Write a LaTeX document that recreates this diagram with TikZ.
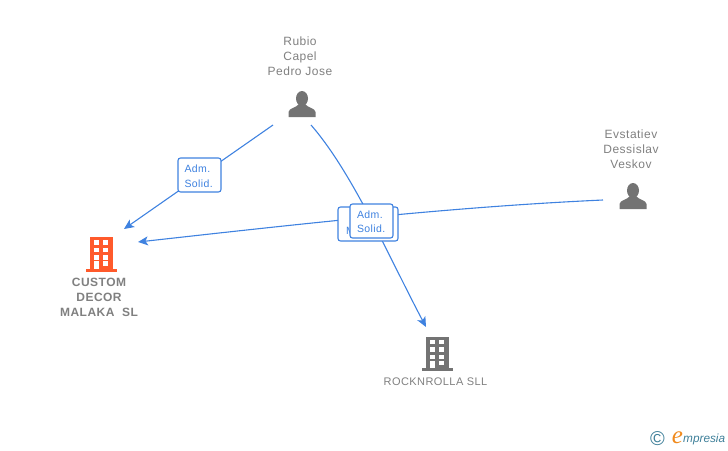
\documentclass[tikz,border=0pt]{standalone}
\usepackage{fontspec}
\setmainfont{Liberation Sans}
\newfontfamily\labelfont[LetterSpace=4]{Liberation Sans}
\newfontfamily\logofont{Liberation Serif}
\usepackage{xcolor}
\usetikzlibrary{arrows.meta}

\definecolor{linkblue}{HTML}{3F82E0}
\definecolor{labelgray}{HTML}{808080}
\definecolor{icongray}{HTML}{737373}
\definecolor{iconorange}{HTML}{FF5A2B}
\definecolor{logoteal}{HTML}{3E7F99}
\definecolor{logoorange}{HTML}{F08A1D}

\tikzset{
    namelabel/.style={text=labelgray, align=center, font=\labelfont\fontsize{12}{15}\selectfont},
    boldlabel/.style={namelabel, font=\labelfont\bfseries\fontsize{12}{15}\selectfont},
    link/.style={draw=linkblue, line width=1.1pt, -{Stealth[length=10pt,width=9pt,inset=2.5pt]}},
    badge/.style={draw=linkblue, line width=1.1pt, fill=white, rounded corners=2.5pt, inner sep=0pt},
    badgetext/.style={text=linkblue, align=left, anchor=west, font=\labelfont\fontsize{10.5}{14.5}\selectfont},
    personicon/.pic={
        \fill[icongray] (0,-5.5) ellipse (6 and 7.5);
        \fill[icongray] (-13.5,13) -- (-13.5,8) .. controls (-13,4) and (-6,4) .. (-3,0)
            -- (3,0) .. controls (6,4) and (13,4) .. (13.5,8) -- (13.5,13) -- cycle;
    },
    buildingicon/.pic={
        \fill[#1] (-11.5,-16.5) rectangle (11.5,15);
        \fill[#1] (-15.5,15) rectangle (15.5,18);
        \foreach \rowy in {-13.5,-6,1.5} {
            \fill[white] (-7.5,\rowy) rectangle (-2.5,\rowy+4.5);
            \fill[white] (2,\rowy) rectangle (7,\rowy+4.5);
        }
        \fill[white] (-7.5,7.5) rectangle (-2.5,15);
        \fill[white] (2,7.5) rectangle (7,12);
    }
}

\begin{document}
\begin{tikzpicture}[x=1pt, y=-1pt]
    \useasboundingbox (0,0) rectangle (728,450);

    % free ends of the links
    \coordinate (rubioL) at (273,125);
    \coordinate (rubioR) at (311,125);
    \coordinate (evstatievL) at (603,200);
    \coordinate (customT) at (124,229);
    \coordinate (customR) at (138,242);
    \coordinate (rockT) at (426,327);

    \draw[link] (evstatievL) .. controls (450,207) and (300,224) .. (customR); % evstatiev-custom
    \draw[link] (rubioL) -- (customT); % rubio-custom
    \draw[link] (rubioR) .. controls (352,172) and (388,255) .. (rockT); % rubio-rocknrolla

    \node[badge, minimum width=43pt, minimum height=34pt] (badgeRubio) at (199.5,175) {};
    \node[badgetext] (badgeRubioText) at (181,176) {Adm.\\Solid.};

    \node[badge, minimum width=60pt, minimum height=34pt] (badgeBack) at (368,224) {};
    \node[badgetext, inner sep=0pt] (badgeBackText) at (346,231) {M};
    \node[badge, minimum width=43pt, minimum height=34pt] (badgeFront) at (371.5,221) {};
    \node[badgetext] (badgeFrontText) at (353.5,221.5) {Adm.\\Solid.};

    \pic at (302,104) {personicon};
    \node[namelabel] (rubio) at (300,56) {Rubio\\Capel\\Pedro Jose};

    \pic at (633,196) {personicon};
    \node[namelabel] (evstatiev) at (631,149) {Evstatiev\\Dessislav\\Veskov};

    \pic at (101,253.5) {buildingicon=iconorange};
    \node[boldlabel] (custom) at (99,297.5) {CUSTOM\\DECOR\\MALAKA\ \ SL};

    \pic at (437,353) {buildingicon=icongray};
    \node[namelabel, font=\labelfont\fontsize{11}{14}\selectfont] (rock) at (435.5,382) {ROCKNROLLA SLL};

    % logo
    \node[text=logoteal, font=\fontsize{20}{20}\selectfont, inner sep=0pt] (logoC) at (657.5,438.5) {\textcopyright};
    \node[text=logoorange, font=\logofont\itshape\fontsize{25}{25}\selectfont, inner sep=0pt] (logoE) at (677.5,437.5) {e};
    \node[text=logoteal, font=\itshape\fontsize{11.8}{14}\selectfont, inner sep=0pt, anchor=west] (logoText) at (683,439) {mpresia};
\end{tikzpicture}
\end{document}
